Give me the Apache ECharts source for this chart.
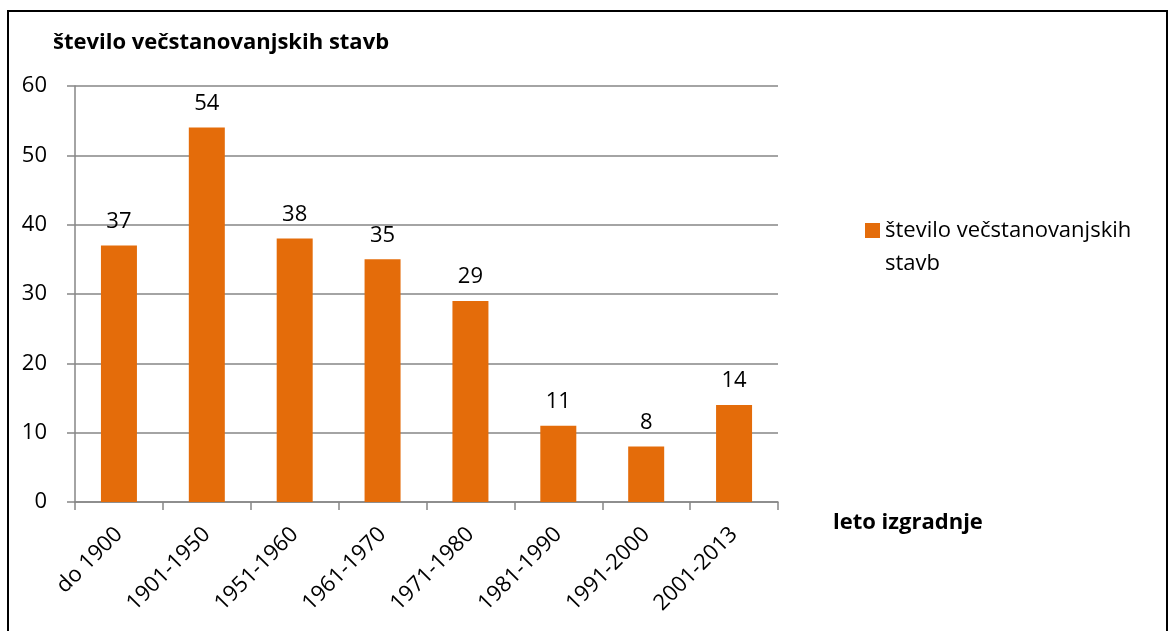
<!DOCTYPE html>
<html>
<head>
<meta charset="utf-8">
<script src="https://cdn.jsdelivr.net/npm/echarts@6/dist/echarts.min.js"></script>
<style>
  html, body { margin: 0; padding: 0; background: #fff; }
  #main { width: 1170px; height: 631px; }
</style>
</head>
<body>
<div id="main"></div>
<script>
  const categories = ['do 1900', '1901-1950', '1951-1960', '1961-1970', '1971-1980', '1981-1990', '1991-2000', '2001-2013'];
  const counts = [37, 54, 38, 35, 29, 11, 8, 14];
  const seriesName = 'število večstanovanjskih stavb';
  const yTicks = [0, 10, 20, 30, 40, 50, 60];

  const font = '"Open Sans", Lato, sans-serif';
  const fs = 22;
  const chart = echarts.init(document.getElementById('main'));
  chart.setOption({
    animation: false,
    textStyle: { fontFamily: font },
    graphic: [{
      type: 'rect',
      shape: { x: 8, y: 11, width: 1159, height: 660 },
      style: { fill: 'none', stroke: '#000', lineWidth: 2 }
    }],
    title: [{
      text: 'število večstanovanjskih stavb',
      left: 53, top: 32,
      padding: 0,
      textStyle: { fontFamily: font, fontSize: fs, fontWeight: 'bold', color: '#000' }
    }, {
      text: 'leto izgradnje',
      left: 833, top: 512,
      padding: 0,
      textStyle: { fontFamily: font, fontSize: fs, fontWeight: 'bold', color: '#000' }
    }],
    legend: {
      left: 865, top: 181,
      padding: 0,
      orient: 'vertical',
      itemWidth: 15, itemHeight: 15,
      icon: 'rect',
      data: [{ name: seriesName }],
      // blank first line keeps the marker level with the first text line
      formatter: () => ' \nštevilo večstanovanjskih\nstavb',
      textStyle: { fontFamily: font, fontSize: fs, color: '#000', lineHeight: 33 }
    },
    grid: { left: 75, right: 392, top: 86, bottom: 129 },
    xAxis: {
      type: 'category',
      data: categories,
      axisLine: { lineStyle: { color: '#868686', width: 1.5 } },
      axisTick: { show: true, length: 8, lineStyle: { color: '#868686', width: 1.5 } },
      axisLabel: { rotate: 45, margin: 29, fontSize: fs, color: '#000', fontFamily: font, interval: 0 }
    },
    yAxis: {
      type: 'value',
      min: 0, max: 60, interval: 10,
      axisLine: { show: true, lineStyle: { color: '#868686', width: 1.5 } },
      axisTick: { show: true, length: 8, lineStyle: { color: '#868686', width: 1.5 } },
      splitLine: { lineStyle: { color: '#868686', width: 1.5 } },
      axisLabel: {
        margin: 28, fontSize: fs, color: '#000', fontFamily: font,
        formatter: v => yTicks.includes(v) ? String(v) : ''
      }
    },
    series: [{
      name: seriesName,
      type: 'bar',
      data: counts,
      barWidth: 36,
      itemStyle: { color: '#E46C0A' },
      label: { show: true, position: 'top', distance: 13, fontSize: fs, color: '#000', fontFamily: font }
    }]
  });
</script>
</body>
</html>
